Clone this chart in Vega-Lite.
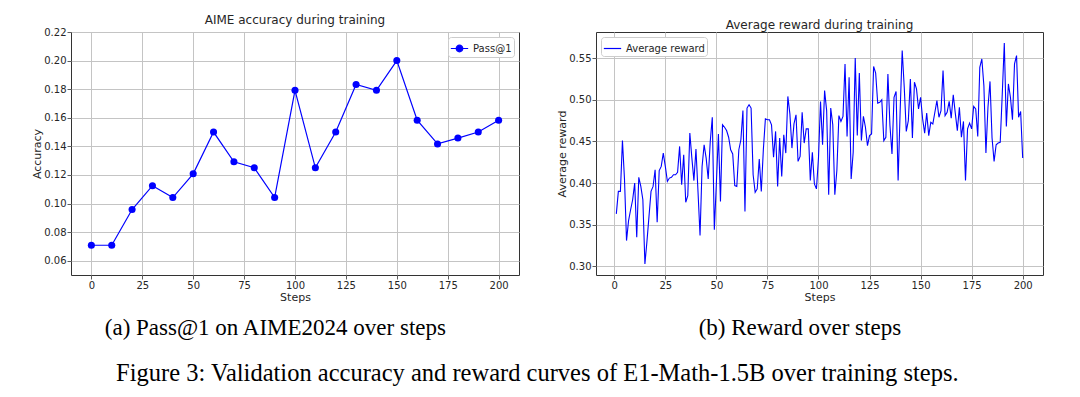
{
  "$schema": "https://vega.github.io/schema/vega-lite/v6.json",
  "background": "white",
  "padding": {"left": 31, "top": 13, "right": 5, "bottom": 5},
  "config": {
    "view": {"stroke": "#333333", "strokeWidth": 1},
    "axis": {
      "domain": false,
      "grid": true,
      "gridColor": "#c4c4c4",
      "gridWidth": 1,
      "tickColor": "#333333",
      "tickSize": 4,
      "tickWidth": 0.8,
      "labelFont": "DejaVu Sans",
      "labelFontSize": 10,
      "labelColor": "#262626",
      "labelPadding": 1,
      "titleFont": "DejaVu Sans",
      "titleFontSize": 11,
      "titleFontWeight": "normal",
      "titleColor": "#262626",
      "titlePadding": 1
    },
    "legend": {
      "labelFont": "DejaVu Sans",
      "labelFontSize": 10,
      "labelColor": "#262626",
      "strokeColor": "#cccccc",
      "fillColor": "white",
      "cornerRadius": 3,
      "padding": 2,
      "offset": 5
    }
  },
  "datasets": {
    "acc": [
      {"step": 0, "accuracy": 0.0708},
      {"step": 10, "accuracy": 0.0708},
      {"step": 20, "accuracy": 0.0958},
      {"step": 30, "accuracy": 0.1125},
      {"step": 40, "accuracy": 0.1042},
      {"step": 50, "accuracy": 0.1208},
      {"step": 60, "accuracy": 0.15},
      {"step": 70, "accuracy": 0.1292},
      {"step": 80, "accuracy": 0.125},
      {"step": 90, "accuracy": 0.1042},
      {"step": 100, "accuracy": 0.1792},
      {"step": 110, "accuracy": 0.125},
      {"step": 120, "accuracy": 0.15},
      {"step": 130, "accuracy": 0.1833},
      {"step": 140, "accuracy": 0.1792},
      {"step": 150, "accuracy": 0.2},
      {"step": 160, "accuracy": 0.1583},
      {"step": 170, "accuracy": 0.1417},
      {"step": 180, "accuracy": 0.1458},
      {"step": 190, "accuracy": 0.15},
      {"step": 200, "accuracy": 0.1583}
    ],
    "reward": [
      {"step": 1, "reward": 0.363}, {"step": 2, "reward": 0.390}, {"step": 3, "reward": 0.390}, {"step": 4, "reward": 0.451}, {"step": 5, "reward": 0.405},
      {"step": 6, "reward": 0.331}, {"step": 7, "reward": 0.355}, {"step": 8, "reward": 0.368}, {"step": 9, "reward": 0.380}, {"step": 10, "reward": 0.400},
      {"step": 11, "reward": 0.335}, {"step": 12, "reward": 0.407}, {"step": 13, "reward": 0.396}, {"step": 14, "reward": 0.380}, {"step": 15, "reward": 0.303},
      {"step": 16, "reward": 0.330}, {"step": 17, "reward": 0.360}, {"step": 18, "reward": 0.390}, {"step": 19, "reward": 0.396}, {"step": 20, "reward": 0.416},
      {"step": 21, "reward": 0.353}, {"step": 22, "reward": 0.415}, {"step": 23, "reward": 0.420}, {"step": 24, "reward": 0.436}, {"step": 25, "reward": 0.420},
      {"step": 26, "reward": 0.402}, {"step": 27, "reward": 0.406}, {"step": 28, "reward": 0.407}, {"step": 29, "reward": 0.410}, {"step": 30, "reward": 0.410},
      {"step": 31, "reward": 0.413}, {"step": 32, "reward": 0.444}, {"step": 33, "reward": 0.398}, {"step": 34, "reward": 0.434}, {"step": 35, "reward": 0.377},
      {"step": 36, "reward": 0.385}, {"step": 37, "reward": 0.460}, {"step": 38, "reward": 0.430}, {"step": 39, "reward": 0.403}, {"step": 40, "reward": 0.441},
      {"step": 41, "reward": 0.390}, {"step": 42, "reward": 0.337}, {"step": 43, "reward": 0.420}, {"step": 44, "reward": 0.446}, {"step": 45, "reward": 0.430},
      {"step": 46, "reward": 0.405}, {"step": 47, "reward": 0.450}, {"step": 48, "reward": 0.479}, {"step": 49, "reward": 0.344}, {"step": 50, "reward": 0.400},
      {"step": 51, "reward": 0.459}, {"step": 52, "reward": 0.378}, {"step": 53, "reward": 0.470}, {"step": 54, "reward": 0.467}, {"step": 55, "reward": 0.463},
      {"step": 56, "reward": 0.455}, {"step": 57, "reward": 0.440}, {"step": 58, "reward": 0.435}, {"step": 59, "reward": 0.397}, {"step": 60, "reward": 0.396},
      {"step": 61, "reward": 0.440}, {"step": 62, "reward": 0.452}, {"step": 63, "reward": 0.487}, {"step": 64, "reward": 0.366}, {"step": 65, "reward": 0.490},
      {"step": 66, "reward": 0.494}, {"step": 67, "reward": 0.490}, {"step": 68, "reward": 0.410}, {"step": 69, "reward": 0.389}, {"step": 70, "reward": 0.393},
      {"step": 71, "reward": 0.429}, {"step": 72, "reward": 0.390}, {"step": 73, "reward": 0.440}, {"step": 74, "reward": 0.477}, {"step": 75, "reward": 0.476},
      {"step": 76, "reward": 0.476}, {"step": 77, "reward": 0.470}, {"step": 78, "reward": 0.431}, {"step": 79, "reward": 0.462}, {"step": 80, "reward": 0.396},
      {"step": 81, "reward": 0.454}, {"step": 82, "reward": 0.408}, {"step": 83, "reward": 0.458}, {"step": 84, "reward": 0.436}, {"step": 85, "reward": 0.504},
      {"step": 86, "reward": 0.483}, {"step": 87, "reward": 0.442}, {"step": 88, "reward": 0.471}, {"step": 89, "reward": 0.482}, {"step": 90, "reward": 0.426},
      {"step": 91, "reward": 0.432}, {"step": 92, "reward": 0.485}, {"step": 93, "reward": 0.448}, {"step": 94, "reward": 0.465}, {"step": 95, "reward": 0.465},
      {"step": 96, "reward": 0.403}, {"step": 97, "reward": 0.437}, {"step": 98, "reward": 0.399}, {"step": 99, "reward": 0.393}, {"step": 100, "reward": 0.430},
      {"step": 101, "reward": 0.498}, {"step": 102, "reward": 0.446}, {"step": 103, "reward": 0.511}, {"step": 104, "reward": 0.487}, {"step": 105, "reward": 0.386},
      {"step": 106, "reward": 0.490}, {"step": 107, "reward": 0.470}, {"step": 108, "reward": 0.386}, {"step": 109, "reward": 0.415}, {"step": 110, "reward": 0.481},
      {"step": 111, "reward": 0.474}, {"step": 112, "reward": 0.480}, {"step": 113, "reward": 0.543}, {"step": 114, "reward": 0.456}, {"step": 115, "reward": 0.527},
      {"step": 116, "reward": 0.405}, {"step": 117, "reward": 0.437}, {"step": 118, "reward": 0.550}, {"step": 119, "reward": 0.457}, {"step": 120, "reward": 0.532},
      {"step": 121, "reward": 0.451}, {"step": 122, "reward": 0.480}, {"step": 123, "reward": 0.467}, {"step": 124, "reward": 0.445}, {"step": 125, "reward": 0.457},
      {"step": 126, "reward": 0.459}, {"step": 127, "reward": 0.540}, {"step": 128, "reward": 0.532}, {"step": 129, "reward": 0.496}, {"step": 130, "reward": 0.497},
      {"step": 131, "reward": 0.500}, {"step": 132, "reward": 0.451}, {"step": 133, "reward": 0.455}, {"step": 134, "reward": 0.531}, {"step": 135, "reward": 0.469},
      {"step": 136, "reward": 0.435}, {"step": 137, "reward": 0.503}, {"step": 138, "reward": 0.510}, {"step": 139, "reward": 0.403}, {"step": 140, "reward": 0.487},
      {"step": 141, "reward": 0.559}, {"step": 142, "reward": 0.515}, {"step": 143, "reward": 0.462}, {"step": 144, "reward": 0.475}, {"step": 145, "reward": 0.525},
      {"step": 146, "reward": 0.454}, {"step": 147, "reward": 0.521}, {"step": 148, "reward": 0.513}, {"step": 149, "reward": 0.489}, {"step": 150, "reward": 0.503},
      {"step": 151, "reward": 0.477}, {"step": 152, "reward": 0.460}, {"step": 153, "reward": 0.484}, {"step": 154, "reward": 0.457}, {"step": 155, "reward": 0.473},
      {"step": 156, "reward": 0.471}, {"step": 157, "reward": 0.485}, {"step": 158, "reward": 0.499}, {"step": 159, "reward": 0.479}, {"step": 160, "reward": 0.487},
      {"step": 161, "reward": 0.535}, {"step": 162, "reward": 0.481}, {"step": 163, "reward": 0.485}, {"step": 164, "reward": 0.498}, {"step": 165, "reward": 0.478},
      {"step": 166, "reward": 0.506}, {"step": 167, "reward": 0.484}, {"step": 168, "reward": 0.463}, {"step": 169, "reward": 0.491}, {"step": 170, "reward": 0.455},
      {"step": 171, "reward": 0.474}, {"step": 172, "reward": 0.403}, {"step": 173, "reward": 0.465}, {"step": 174, "reward": 0.472}, {"step": 175, "reward": 0.465},
      {"step": 176, "reward": 0.492}, {"step": 177, "reward": 0.489}, {"step": 178, "reward": 0.456}, {"step": 179, "reward": 0.539}, {"step": 180, "reward": 0.549},
      {"step": 181, "reward": 0.517}, {"step": 182, "reward": 0.436}, {"step": 183, "reward": 0.491}, {"step": 184, "reward": 0.522}, {"step": 185, "reward": 0.454},
      {"step": 186, "reward": 0.426}, {"step": 187, "reward": 0.446}, {"step": 188, "reward": 0.448}, {"step": 189, "reward": 0.449}, {"step": 190, "reward": 0.507},
      {"step": 191, "reward": 0.568}, {"step": 192, "reward": 0.468}, {"step": 193, "reward": 0.519}, {"step": 194, "reward": 0.503}, {"step": 195, "reward": 0.476},
      {"step": 196, "reward": 0.543}, {"step": 197, "reward": 0.553}, {"step": 198, "reward": 0.479}, {"step": 199, "reward": 0.486}, {"step": 200, "reward": 0.430}
    ]
  },
  "title": {
    "text": "Figure 3: Validation accuracy and reward curves of E1-Math-1.5B over training steps.",
    "orient": "bottom",
    "anchor": "middle",
    "frame": "bounds",
    "font": "Liberation Serif",
    "fontSize": 24.5,
    "fontWeight": "normal",
    "color": "black",
    "offset": 22
  },
  "spacing": 36,
  "resolve": {"scale": {"color": "independent"}, "legend": {"color": "independent"}},
  "hconcat": [
    {
      "title": {
        "text": "(a) Pass@1 on AIME2024 over steps",
        "orient": "bottom",
        "anchor": "middle",
        "frame": "bounds",
        "font": "Liberation Serif",
        "fontSize": 23,
        "fontWeight": "normal",
        "color": "black",
        "offset": 14
      },
      "resolve": {"scale": {"color": "independent"}, "legend": {"color": "independent"}},
      "vconcat": [
        {
          "width": 448,
          "height": 243,
          "title": {"text": "AIME accuracy during training", "font": "DejaVu Sans", "fontSize": 12, "fontWeight": "normal", "color": "#262626", "anchor": "middle", "frame": "group", "offset": 0},
          "data": {"name": "acc"},
          "mark": {"type": "line", "strokeWidth": 1.2, "point": {"filled": true, "size": 50}},
          "encoding": {
            "x": {"field": "step", "type": "quantitative", "title": "Steps",
                  "scale": {"domain": [-10, 210], "nice": false, "zero": false},
                  "axis": {"values": [0, 25, 50, 75, 100, 125, 150, 175, 200]}},
            "y": {"field": "accuracy", "type": "quantitative", "title": "Accuracy",
                  "scale": {"domain": [0.05, 0.22], "nice": false, "zero": false},
                  "axis": {"values": [0.06, 0.08, 0.10, 0.12, 0.14, 0.16, 0.18, 0.20, 0.22], "format": ".2f"}},
            "color": {"datum": "Pass@1", "type": "nominal",
                      "scale": {"domain": ["Pass@1"], "range": ["#0000ff"]},
                      "legend": {"title": null, "orient": "top-right",
                                 "symbolType": "M-1,0L1,0M-0.38,0A0.38,0.38,0,1,0,0.38,0A0.38,0.38,0,1,0,-0.38,0Z",
                                 "symbolSize": 300, "symbolFillColor": "#0000ff", "symbolStrokeColor": "#0000ff", "symbolStrokeWidth": 1.2}}
          }
        }
      ]
    },
    {
      "title": {
        "text": "(b) Reward over steps",
        "orient": "bottom",
        "anchor": "middle",
        "frame": "bounds",
        "font": "Liberation Serif",
        "fontSize": 23,
        "fontWeight": "normal",
        "color": "black",
        "offset": 14
      },
      "resolve": {"scale": {"color": "independent"}, "legend": {"color": "independent"}},
      "vconcat": [
        {
          "width": 447,
          "height": 243,
          "title": {"text": "Average reward during training", "font": "DejaVu Sans", "fontSize": 12, "fontWeight": "normal", "color": "#262626", "anchor": "middle", "frame": "group", "offset": 0},
          "data": {"name": "reward"},
          "mark": {"type": "line", "strokeWidth": 1.1},
          "encoding": {
            "x": {"field": "step", "type": "quantitative", "title": "Steps",
                  "scale": {"domain": [-8.95, 209.95], "nice": false, "zero": false},
                  "axis": {"values": [0, 25, 50, 75, 100, 125, 150, 175, 200]}},
            "y": {"field": "reward", "type": "quantitative", "title": "Average reward",
                  "scale": {"domain": [0.2897, 0.5813], "nice": false, "zero": false},
                  "axis": {"values": [0.30, 0.35, 0.40, 0.45, 0.50, 0.55], "format": ".2f"}},
            "color": {"datum": "Average reward", "type": "nominal",
                      "scale": {"domain": ["Average reward"], "range": ["#0000ff"]},
                      "legend": {"title": null, "orient": "top-left", "symbolType": "stroke",
                                 "symbolSize": 300, "symbolStrokeWidth": 1.2, "symbolStrokeColor": "#0000ff"}}
          }
        }
      ]
    }
  ]
}
